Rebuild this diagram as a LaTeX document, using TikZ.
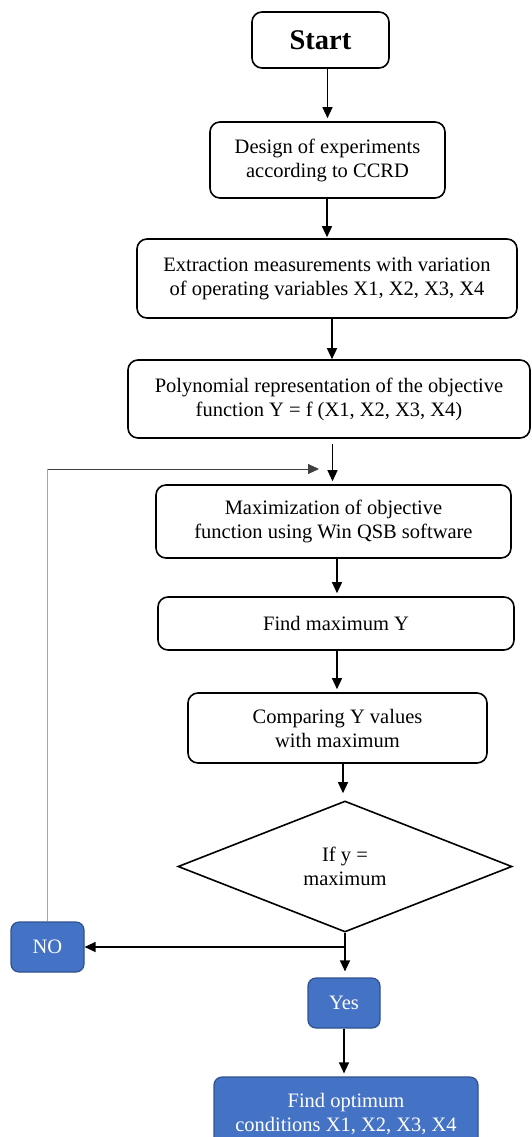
\documentclass[tikz,border=0pt]{standalone}
\usepackage{fontspec}
\setmainfont{Liberation Serif}
\usetikzlibrary{shapes.geometric,arrows.meta}

\definecolor{stepblue}{HTML}{4472C4}
\definecolor{stepblueedge}{HTML}{2F528F}

\begin{document}
\begin{tikzpicture}[x=1pt,y=-1pt,
  every node/.style={font=\fontsize{20.5}{24}\selectfont, align=center, inner sep=0pt},
  stepbox/.style={draw=black, line width=1.6pt, rounded corners=10pt, fill=white},
  bluebox/.style={draw=stepblueedge, line width=1.2pt, rounded corners=8pt, fill=stepblue, text=white},
  decision/.style={draw=black, line width=1.6pt, diamond, fill=white},
  arr/.style={line width=1.3pt, -{Triangle[length=11pt,width=10pt]}, shorten >=3pt},
  loopline/.style={line width=1pt, draw=black!35},
  looparr/.style={line width=1pt, draw=black!75, -{Triangle[length=11pt,width=10pt]}}
]
\useasboundingbox (0,0) rectangle (532,1137);

% process steps
\node[stepbox, minimum width=137pt, minimum height=56pt,
      font=\fontsize{28.5}{32}\selectfont\bfseries] (start) at (320.5,40) {Start};
\node[stepbox, minimum width=235pt, minimum height=76pt] (design) at (327.5,160)
  {Design of experiments\\according to CCRD};
\node[stepbox, minimum width=380pt, minimum height=79pt] (extract) at (327,278.5)
  {Extraction measurements with variation\\of operating variables X1, X2, X3, X4};
\node[stepbox, minimum width=402pt, minimum height=78pt] (poly) at (329,399)
  {Polynomial representation of the objective\\function Y = f (X1, X2, X3, X4)};
\node[stepbox, minimum width=355pt, minimum height=73pt] (maxim) at (333.5,521.5)
  {Maximization of objective\\function using Win QSB software};
\node[stepbox, minimum width=356pt, minimum height=53pt] (findmax) at (336,623.5)
  {Find maximum Y};
\node[stepbox, minimum width=299pt, minimum height=70pt] (compare) at (337.5,728)
  {Comparing Y values\\with maximum};
\node[decision, minimum width=334pt, minimum height=131pt] (check) at (345,866.5)
  {If y =\\maximum};

% outcomes
\node[bluebox, minimum width=73pt, minimum height=50pt] (no) at (47.5,947) {NO};
\node[bluebox, minimum width=72pt, minimum height=50pt] (yes) at (344,1003) {Yes};
\node[bluebox, minimum width=264pt, minimum height=74pt] (optimum) at (346,1114)
  {Find optimum\\conditions X1, X2, X3, X4};

% main flow
\draw[arr] (design.north |- start.south) -- (design.north);
\draw[arr, shorten >=1pt] (extract.north |- design.south) -- (extract.north);
\draw[arr, shorten >=0pt] (332,318) coordinate (p1) -- (p1 |- poly.north);
\draw[arr, shorten <=6pt] (332.5,438) coordinate (p2) -- (p2 |- maxim.north);
\draw[arr] (337,558) coordinate (p3) -- (p3 |- findmax.north);
\draw[arr] (337,650) coordinate (p4) -- (p4 |- compare.north);
\draw[arr, shorten >=7pt] (343,763) coordinate (p5) -- (p5 |- check.north);
\draw[line width=1.3pt] (check.south) -- (check.south |- no.east) coordinate (split);
\draw[arr, shorten >=0pt] (split) -- (no.east);
\draw[arr, shorten >=6pt] (split) -- (split |- yes.north);
\draw[arr] (yes.south) -- (yes.south |- optimum.north);

% loop back to the maximization step
\coordinate (fb) at (319,469);
\draw[loopline] (no.north) -- (no.north |- fb);
\draw[looparr] (no.north |- fb) -- (fb);
\end{tikzpicture}
\end{document}
